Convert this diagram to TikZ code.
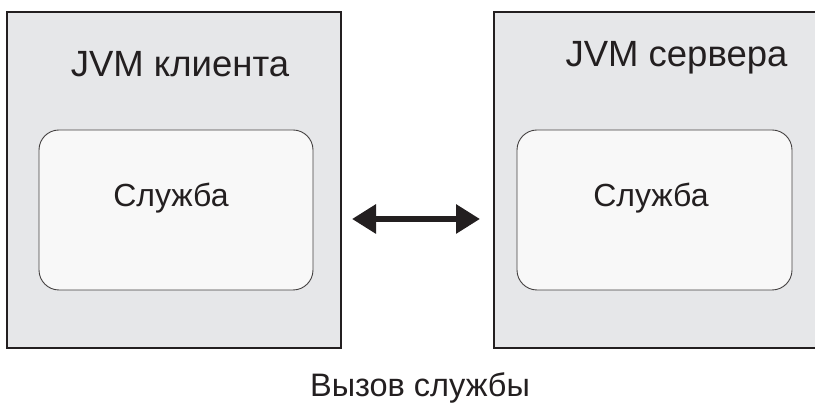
\documentclass[tikz,border=0pt]{standalone}
\usepackage{fontspec}
\setmainfont{Liberation Sans}
\usetikzlibrary{arrows.meta}
\definecolor{boxgray}{HTML}{E6E7E9}
\definecolor{innerfill}{HTML}{F8F8F8}
\definecolor{edge}{HTML}{231F20}
\tikzset{
  jvmbox/.style={fill=boxgray, draw=edge, line width=1.5pt},
  svcbox/.style={fill=innerfill, draw=edge!85, line width=0.9pt, rounded corners=20pt},
  bigtxt/.style={font=\fontsize{36.5}{40}\selectfont, text=edge, anchor=base, inner sep=0pt},
  svctxt/.style={font=\fontsize{32}{35}\selectfont, text=edge, anchor=base, inner sep=0pt},
  calltxt/.style={font=\fontsize{32.5}{35}\selectfont, text=edge, anchor=base, inner sep=0pt},
  callarrow/.style={line width=6pt, draw=edge, {Triangle[length=24pt,width=28pt]}-{Triangle[length=24pt,width=28pt]}}
}
\begin{document}
\begin{tikzpicture}[x=1pt,y=1pt]
\useasboundingbox (0,0) rectangle (815,403);
% left JVM
\path[jvmbox] (7,55) rectangle (341,391);
% right JVM (open on the right side)
\fill[boxgray] (494,55) rectangle (815,391);
\draw[edge, line width=1.5pt] (815,391) -- (494,391) -- (494,55) -- (815,55);
% inner service boxes
\node[svcbox, minimum width=274pt, minimum height=160pt, inner sep=0pt] (svcL) at (176,193) {};
\node[svcbox, minimum width=275pt, minimum height=160pt, inner sep=0pt] (svcR) at (654.5,193) {};
% labels
\node[bigtxt] (jvmL) at (180,326) {JVM клиента};
\node[bigtxt] (jvmR) at (676.5,336) {JVM сервера};
\node[svctxt] (sL) at (171,196) {Служба};
\node[svctxt] (sR) at (651,196) {Служба};
% arrow
\coordinate (aL) at (352,184);
\coordinate (aR) at (480,184);
\draw[callarrow] (aL) -- (aR);
\node[calltxt] (call) at (420,6) {Вызов службы};
\end{tikzpicture}
\end{document}
